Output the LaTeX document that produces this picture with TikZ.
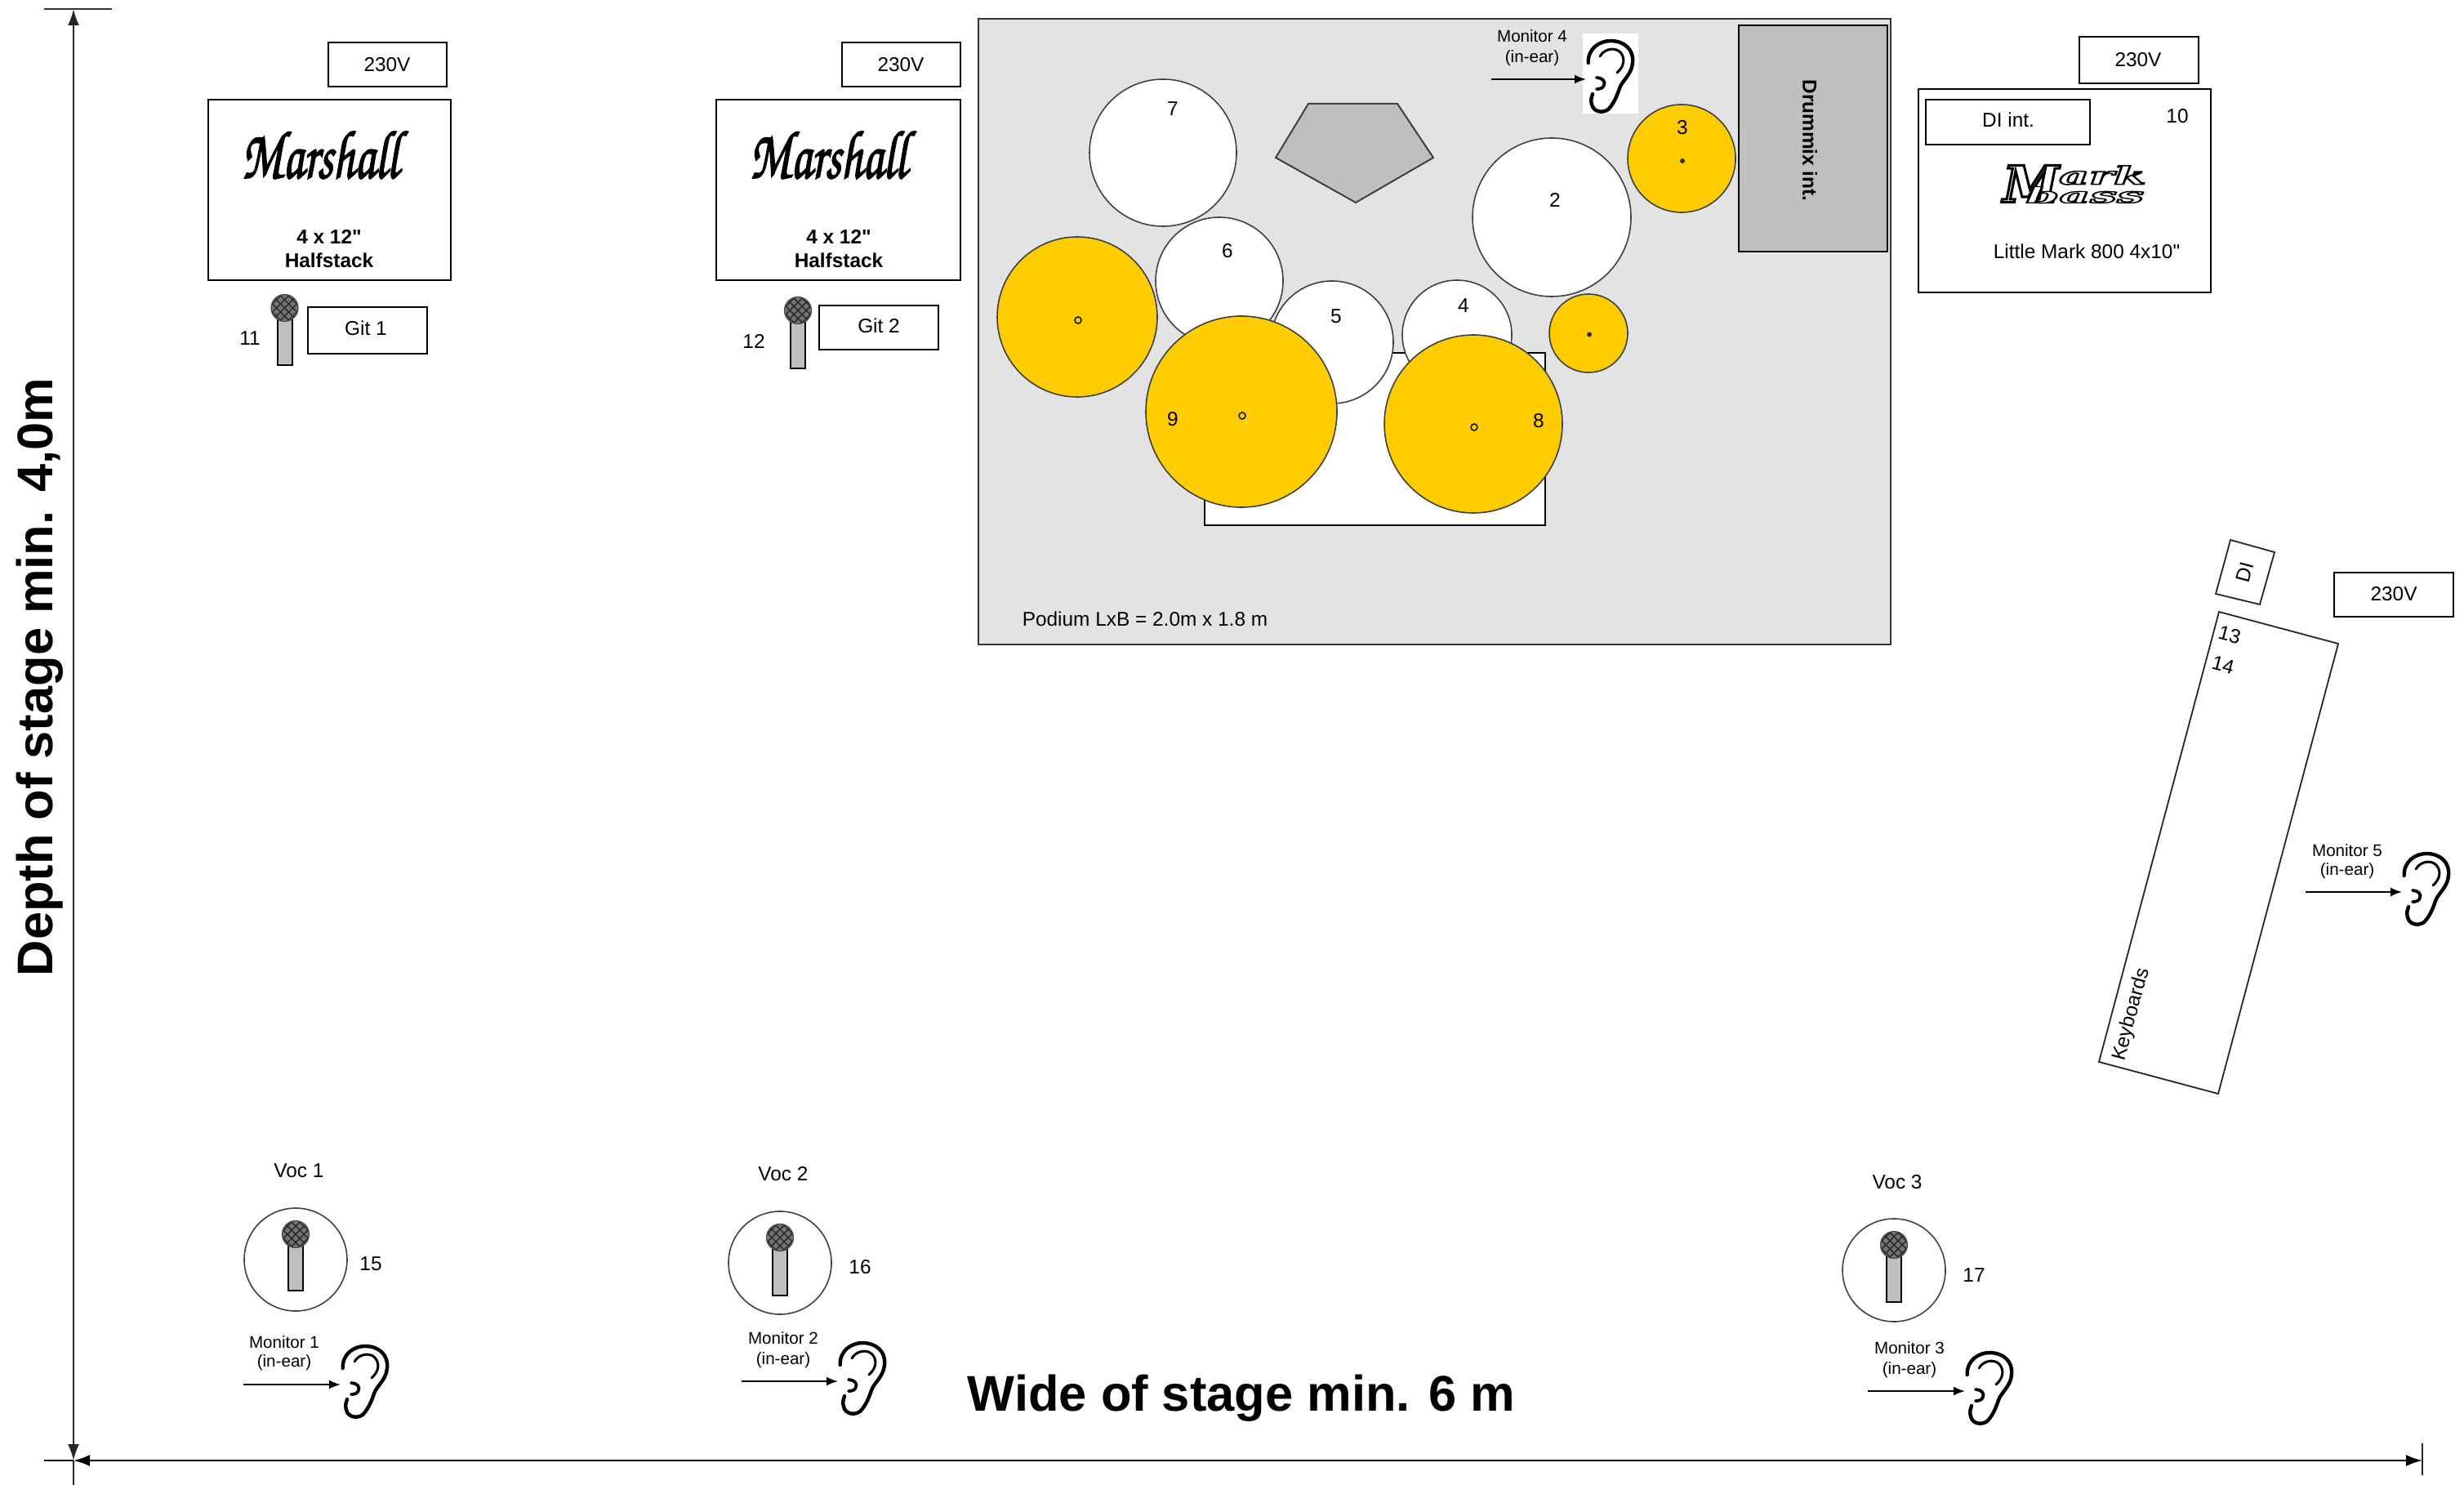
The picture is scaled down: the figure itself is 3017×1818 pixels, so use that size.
\documentclass[tikz,border=0pt]{standalone}
\usepackage{fontspec}
\usepackage{graphicx}
\setmainfont[Ligatures=TeXOff]{Liberation Sans}
\newfontfamily\logofont[FakeBold=2.2]{TeX Gyre Chorus}
\newfontfamily\bassfont[FakeBold=5]{DejaVu Serif Bold Italic}
\usetikzlibrary{arrows.meta}
\definecolor{stagegray}{HTML}{E3E3E3}
\definecolor{midgray}{HTML}{BFBFBF}
\definecolor{drumyellow}{HTML}{FFCC00}
\definecolor{rimgray}{HTML}{404040}
\newcommand\hollow{\special{pdf:code 1 1 1 rg}}
\tikzset{
  lbl/.style={inner sep=0pt,font=\fontsize{12.2pt}{14pt}\selectfont},
  boldlbl/.style={inner sep=0pt,font=\fontsize{12.2pt}{14pt}\selectfont\bfseries},
  mon/.style={inner sep=0pt,font=\fontsize{10.3pt}{12pt}\selectfont},
  bigl/.style={inner sep=0pt,font=\fontsize{30.7pt}{34pt}\selectfont\bfseries},
  logo/.style={inner sep=0pt,yscale=1.4,font=\logofont\fontsize{30pt}{30pt}\selectfont},
  boxline/.style={draw=black,line width=1pt,fill=white},
  whitedrum/.style={draw=rimgray,line width=0.8pt,fill=white},
  yellowdrum/.style={draw=rimgray,line width=0.8pt,fill=drumyellow},
  axis/.style={draw=black!85,line width=1.2pt},
  axistip/.style={-{Latex[length=10pt,width=7pt]}},
  monarrow/.style={draw=black,line width=0.9pt,-{Latex[length=7pt,width=5.5pt]}},
  ear/.pic={
    \draw[black,line width=2.2pt,line cap=round]
      (2.7,-20) .. controls (2,-38) and (17,-47) .. (30,-47)
      .. controls (47,-47) and (59,-36) .. (57,-20)
      .. controls (56,-6) and (44,2) .. (41,11)
      .. controls (38,20) and (34,30) .. (27,37)
      .. controls (20,42) and (9,40) .. (7,31)
      .. controls (5,25) and (7,22) .. (8,18);
    \draw[black,line width=1.5pt,line cap=round]
      (17,-28) .. controls (22,-37) and (35,-40) .. (42,-33)
      .. controls (49,-25) and (46,-15) .. (38,-8);
    \draw[black,line width=1.9pt,line cap=round]
      (13,-2) .. controls (20,-2) and (24,3) .. (22,7)
      .. controls (21,11) and (17,12) .. (13,12);
  },
  mic/.pic={
    \draw[black,line width=1pt,fill=midgray] (-9,0) rectangle (9,#1);
    \fill[black!55] (0,0) circle (16.5);
    \begin{scope}
      \clip (0,0) circle (16.5);
      \foreach \d in {-20,-10,0,10,20}{
        \draw[black!85,line width=0.7pt] (-20+\d,-20) -- (20+\d,20);
        \draw[black!85,line width=0.7pt] (-20+\d,20) -- (20+\d,-20);
      }
    \end{scope}
    \draw[black!70,line width=0.6pt] (0,0) circle (16.5);
  }
}
\begin{document}
\begin{tikzpicture}[x=0.5pt,y=-0.5pt]
\useasboundingbox (0,0) rectangle (3017,1818);

% axes
\coordinate (vtop) at (90,11);
\coordinate (vbot) at (90,1788);
\coordinate (hleft) at (90,1788);
\coordinate (hright) at (2966,1788);
\draw[axis,axistip] (90,700) -- (vtop);
\draw[axis,axistip] (90,700) -- (vbot);
\draw[axis] (vbot) -- (90,1818);
\draw[black!80,line width=1.2pt] (54,11) -- (137,11);
\draw[axis,black,line width=1pt,axistip] (1500,1788) -- (hleft);
\draw[axis,black,line width=1pt,axistip] (1500,1788) -- (hright);
\draw[black,line width=1pt] (54,1788) -- (90,1788);
\draw[black!85,line width=1pt] (2966,1767) -- (2966,1806);
\node[bigl,rotate=90] (depth) at (49,829) {Depth of stage min. 4,0m};
\node[bigl] (wide) at (1520,1712) {Wide of stage min. 6 m};

% guitar 1
\draw[boxline] (402,52) rectangle (547,106);
\node[lbl] (v1) at (474,79) {230V};
\draw[boxline] (255,122) rectangle (552,343);
\node[logo] (ml1) at (392,190) {Marshall};
\node[boldlbl] (c1a) at (403,290) {4 x 12"};
\node[boldlbl] (c1b) at (403,319) {Halfstack};
\pic at (348.5,377) {mic=70};
\draw[boxline] (377,376) rectangle (523,433);
\node[lbl] (git1) at (448,402) {Git 1};
\node[lbl] (n11) at (306,414) {11};

% guitar 2
\draw[boxline] (1031,52) rectangle (1176,106);
\node[lbl] (v2) at (1103,79) {230V};
\draw[boxline] (877,122) rectangle (1176,343);
\node[logo] (ml2) at (1014,190) {Marshall};
\node[boldlbl] (c2a) at (1027,290) {4 x 12"};
\node[boldlbl] (c2b) at (1027,319) {Halfstack};
\pic at (977,380) {mic=71};
\draw[boxline] (1003,374) rectangle (1149,428);
\node[lbl] (git2) at (1076,399) {Git 2};
\node[lbl] (n12) at (923,418) {12};

% podium
\draw[draw=black!80,line width=1pt,fill=stagegray] (1198,23) rectangle (2315,789);
\node[lbl] (pod) at (1402,758) {Podium LxB = 2.0m x 1.8 m};
\draw[boxline] (1475,432) rectangle (1892,643);
\draw[draw=black!75,line width=1pt,fill=midgray] (1602,127) -- (1711,127) -- (1755,193) -- (1660,248) -- (1562,193) -- cycle;
\draw[draw=black,line width=1pt,fill=midgray] (2129,31) rectangle (2311,308);
\node[boldlbl,rotate=-90] (dmix) at (2216,172) {Drummix int.};
\fill[white] (1938,41) rectangle (2006,139);
\coordinate (m4a) at (1826,97);
\coordinate (m4b) at (1942,97);
\draw[monarrow] (m4a) -- (m4b);
\pic at (m4b) {ear};
\node[mon] (m4t) at (1876,44) {Monitor 4};
\node[mon] (m4u) at (1876,71) {(in-ear)};

\draw[whitedrum] (1493,344) circle (78);
\draw[whitedrum] (1424,187) circle (90);
\draw[whitedrum] (1631,419) circle (75);
\draw[whitedrum] (1784,410) circle (67);
\draw[whitedrum] (1900,266) circle (97);
\draw[yellowdrum] (1319,388) circle (98);
\draw[yellowdrum] (1520,504) circle (117);
\draw[yellowdrum] (1804,519) circle (109);
\draw[yellowdrum] (2059,194) circle (66);
\draw[yellowdrum] (1945,408) circle (48);
\foreach \p in {(1320,392),(1521,509),(1805,523)}
  \draw[black!90,line width=0.8pt] \p circle (4);
\foreach \p in {(2060,197),(1946,409.5)}
  \fill[black!80] \p circle (3);
\node[lbl] (d2) at (1904,245) {2};
\node[lbl] (d3) at (2060,156) {3};
\node[lbl] (d4) at (1792,374) {4};
\node[lbl] (d5) at (1636,387) {5};
\node[lbl] (d6) at (1503,307) {6};
\node[lbl] (d7) at (1436,133) {7};
\node[lbl] (d8) at (1884,515) {8};
\node[lbl] (d9) at (1436,513) {9};

% bass
\draw[boxline] (2546,45) rectangle (2692,102);
\node[lbl] (v3) at (2618,73) {230V};
\draw[boxline] (2349,109) rectangle (2707,358);
\draw[boxline] (2358,122) rectangle (2559,177);
\node[lbl] (di) at (2459,147) {DI int.};
\node[lbl] (n10) at (2666,142) {10};
\node[lbl] (little) at (2555,308) {Little Mark 800 4x10"};
\node[inner sep=0pt,anchor=south west,font=\bassfont\fontsize{31pt}{31pt}\selectfont] (mb1) at (2452,248)
  {\color{black}\hollow M\raisebox{11pt}{\scalebox{1.9}[1]{\fontsize{15pt}{15pt}\selectfont\hollow ark}}};
\node[inner sep=0pt,anchor=south west,font=\bassfont\fontsize{13pt}{13pt}\selectfont] (mb2) at (2480,249)
  {\color{black}\hollow\scalebox{2.25}[1]{\hollow bass}};

% keyboards
\draw[draw=black!85,line width=0.9pt,fill=white] (2731,661) -- (2785,676) -- (2767,740) -- (2713,727) -- cycle;
\node[lbl,rotate=75] (kdi) at (2749,701) {DI};
\draw[draw=black!85,line width=0.9pt,fill=white] (2717,749) -- (2863,788) -- (2716,1339) -- (2570,1300) -- cycle;
\node[lbl,rotate=-15] (n13) at (2730,777) {13};
\node[lbl,rotate=-15] (n14) at (2722,814) {14};
\node[lbl,rotate=75] (keys) at (2610,1242) {Keyboards};
\draw[boxline] (2858,701) rectangle (3004,755);
\node[lbl] (v4) at (2931,727) {230V};
\coordinate (m5a) at (2823,1092);
\coordinate (m5b) at (2941,1092);
\draw[monarrow] (m5a) -- (m5b);
\pic at (m5b) {ear};
\node[mon] (m5t) at (2874,1041) {Monitor 5};
\node[mon] (m5u) at (2874,1066) {(in-ear)};

% vocals
\node[lbl] (voc1) at (366,1433) {Voc 1};
\draw[draw=black!75,line width=0.8pt,fill=white] (362,1542) circle (63);
\pic at (362,1511) {mic=69};
\node[lbl] (n15) at (454,1547) {15};
\coordinate (m1a) at (298,1695);
\coordinate (m1b) at (417,1695);
\draw[monarrow] (m1a) -- (m1b);
\pic at (m1b) {ear};
\node[mon] (m1t) at (348,1643) {Monitor 1};
\node[mon] (m1u) at (348,1668) {(in-ear)};

\node[lbl] (voc2) at (959,1437) {Voc 2};
\draw[draw=black!75,line width=0.8pt,fill=white] (955,1546) circle (63);
\pic at (955,1515) {mic=71};
\node[lbl] (n16) at (1053,1551) {16};
\coordinate (m2a) at (908,1691);
\coordinate (m2b) at (1026,1691);
\draw[monarrow] (m2a) -- (m2b);
\pic at (m2b) {ear};
\node[mon] (m2t) at (959,1638) {Monitor 2};
\node[mon] (m2u) at (959,1665) {(in-ear)};

\node[lbl] (voc3) at (2323,1447) {Voc 3};
\draw[draw=black!75,line width=0.8pt,fill=white] (2319,1555) circle (63);
\pic at (2319,1524) {mic=70};
\node[lbl] (n17) at (2417,1561) {17};
\coordinate (m3a) at (2287,1703);
\coordinate (m3b) at (2406,1703);
\draw[monarrow] (m3a) -- (m3b);
\pic at (m3b) {ear};
\node[mon] (m3t) at (2338,1650) {Monitor 3};
\node[mon] (m3u) at (2338,1677) {(in-ear)};
\end{tikzpicture}
\end{document}
